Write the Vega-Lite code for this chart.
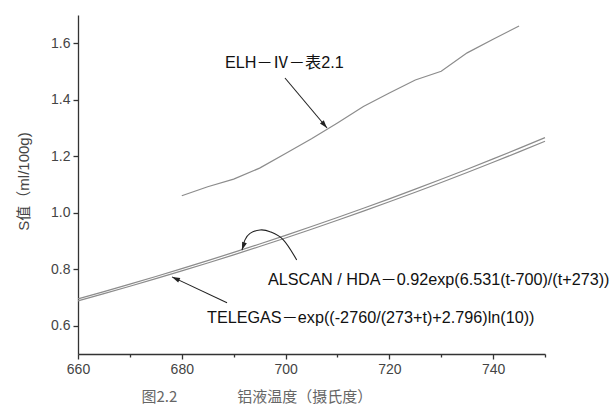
{
  "$schema": "https://vega.github.io/schema/vega-lite/v6.json",
  "width": 467,
  "height": 339,
  "autosize": "none",
  "padding": {"left": 78, "top": 15, "right": 68, "bottom": 52},
  "background": "white",
  "config": {"view": {"stroke": null}, "font": "Liberation Sans"},
  "datasets": {
    "curves": [
      {"series": "ALSCAN", "t": 660, "s": 0.6953}, {"series": "ALSCAN", "t": 665, "s": 0.7210}, {"series": "ALSCAN", "t": 670, "s": 0.7474},
      {"series": "ALSCAN", "t": 675, "s": 0.7744}, {"series": "ALSCAN", "t": 680, "s": 0.8022}, {"series": "ALSCAN", "t": 685, "s": 0.8306},
      {"series": "ALSCAN", "t": 690, "s": 0.8597}, {"series": "ALSCAN", "t": 695, "s": 0.8895}, {"series": "ALSCAN", "t": 700, "s": 0.9200},
      {"series": "ALSCAN", "t": 705, "s": 0.9512}, {"series": "ALSCAN", "t": 710, "s": 0.9832}, {"series": "ALSCAN", "t": 715, "s": 1.0159},
      {"series": "ALSCAN", "t": 720, "s": 1.0493}, {"series": "ALSCAN", "t": 725, "s": 1.0835}, {"series": "ALSCAN", "t": 730, "s": 1.1185},
      {"series": "ALSCAN", "t": 735, "s": 1.1542}, {"series": "ALSCAN", "t": 740, "s": 1.1907}, {"series": "ALSCAN", "t": 745, "s": 1.2279},
      {"series": "ALSCAN", "t": 750, "s": 1.2660},
      {"series": "TELEGAS", "t": 660, "s": 0.6883}, {"series": "TELEGAS", "t": 665, "s": 0.7138}, {"series": "TELEGAS", "t": 670, "s": 0.7399},
      {"series": "TELEGAS", "t": 675, "s": 0.7667}, {"series": "TELEGAS", "t": 680, "s": 0.7941}, {"series": "TELEGAS", "t": 685, "s": 0.8222},
      {"series": "TELEGAS", "t": 690, "s": 0.8511}, {"series": "TELEGAS", "t": 695, "s": 0.8806}, {"series": "TELEGAS", "t": 700, "s": 0.9108},
      {"series": "TELEGAS", "t": 705, "s": 0.9417}, {"series": "TELEGAS", "t": 710, "s": 0.9734}, {"series": "TELEGAS", "t": 715, "s": 1.0057},
      {"series": "TELEGAS", "t": 720, "s": 1.0388}, {"series": "TELEGAS", "t": 725, "s": 1.0727}, {"series": "TELEGAS", "t": 730, "s": 1.1073},
      {"series": "TELEGAS", "t": 735, "s": 1.1426}, {"series": "TELEGAS", "t": 740, "s": 1.1787}, {"series": "TELEGAS", "t": 745, "s": 1.2156},
      {"series": "TELEGAS", "t": 750, "s": 1.2533}
    ],
    "elh": [
      {"t": 680, "s": 1.060}, {"t": 685, "s": 1.092}, {"t": 690, "s": 1.119}, {"t": 695, "s": 1.158},
      {"t": 700, "s": 1.210}, {"t": 705, "s": 1.262}, {"t": 710, "s": 1.318}, {"t": 715, "s": 1.376},
      {"t": 720, "s": 1.424}, {"t": 725, "s": 1.470}, {"t": 730, "s": 1.501}, {"t": 735, "s": 1.566},
      {"t": 740, "s": 1.614}, {"t": 745, "s": 1.661}
    ],
    "arrows": [
      {"name": "ELH", "t": 699.89, "s": 1.477, "t2": 707.99, "s2": 1.300},
      {"name": "TELEGAS", "t": 688.72, "s": 0.681, "t2": 678.12, "s2": 0.773}
    ],
    "curl": [
      {"i": 1, "t": 702.15, "s": 0.833}, {"i": 2, "t": 699.57, "s": 0.904}, {"i": 3, "t": 697.00, "s": 0.933},
      {"i": 4, "t": 695.08, "s": 0.939}, {"i": 5, "t": 693.15, "s": 0.927}, {"i": 6, "t": 692.18, "s": 0.904},
      {"i": 7, "t": 691.61, "s": 0.868}
    ],
    "heads": [
      {"name": "ELH", "t": 707.99, "s": 1.300},
      {"name": "TELEGAS", "t": 678.12, "s": 0.773},
      {"name": "ALSCAN", "t": 691.61, "s": 0.868}
    ],
    "labels": [
      {"label": "ELH－Ⅳ－表2.1", "t": 688.33, "s": 1.530},
      {"label": "ALSCAN / HDA－0.92exp(6.531(t-700)/(t+273))", "t": 696.62, "s": 0.762},
      {"label": "TELEGAS－exp((-2760/(273+t)+2.796)ln(10))", "t": 684.86, "s": 0.627}
    ]
  },
  "layer": [
    {
      "data": {"name": "curves"},
      "mark": {"type": "line", "color": "#8c8c8c", "strokeWidth": 1.2},
      "encoding": {
        "x": {
          "field": "t", "type": "quantitative",
          "scale": {"domain": [660, 750], "nice": false, "zero": false},
          "axis": {
            "values": [660, 670, 680, 690, 700, 710, 720, 730, 740, 750],
            "labelExpr": "datum.value % 20 == 0 ? format(datum.value, 'd') : ''",
            "tickSize": {"condition": {"test": "datum.value % 20 == 0", "value": 5}, "value": 3},
            "grid": false, "domainColor": "#333", "tickColor": "#333", "domainWidth": 1.3, "tickWidth": 1.3,
            "labelFont": "Liberation Sans", "labelFontSize": 14, "labelColor": "#444", "labelPadding": 3,
            "labelFlush": false, "labelOverlap": false,
            "title": "图2.2　　　　铝液温度（摄氏度）",
            "titleFont": "Noto Sans CJK SC", "titleFontSize": 15, "titleFontWeight": "normal", "titleColor": "#666",
            "titleAlign": "left", "titleX": 63, "titleY": 42, "titleBaseline": "middle"
          }
        },
        "y": {
          "field": "s", "type": "quantitative",
          "scale": {"domain": [0.5, 1.7], "nice": false, "zero": false},
          "axis": {
            "values": [0.6, 0.7, 0.8, 0.9, 1.0, 1.1, 1.2, 1.3, 1.4, 1.5, 1.6, 1.7],
            "labelExpr": "round(datum.value * 10) % 2 == 0 ? format(datum.value, '.1f') : ''",
            "tickSize": {"condition": {"test": "round(datum.value * 10) % 2 == 0", "value": 5}, "value": 3},
            "grid": false, "domainColor": "#333", "tickColor": "#333", "domainWidth": 1.3, "tickWidth": 1.3,
            "labelFont": "Liberation Sans", "labelFontSize": 14, "labelColor": "#444", "labelPadding": 3,
            "labelFlush": false, "labelOverlap": false,
            "title": "S值（ml/100g)",
            "titleFont": "Liberation Sans, Noto Sans CJK SC", "titleFontSize": 15, "titleFontWeight": "normal", "titleColor": "#444",
            "titleAngle": -90, "titleAlign": "center", "titleBaseline": "middle", "titleX": -55, "titleY": 166
          }
        },
        "detail": {"field": "series"}
      }
    },
    {
      "data": {"name": "elh"},
      "mark": {"type": "line", "color": "#8c8c8c", "strokeWidth": 1.2},
      "encoding": {
        "x": {"field": "t", "type": "quantitative"},
        "y": {"field": "s", "type": "quantitative"}
      }
    },
    {
      "data": {"name": "arrows"},
      "mark": {"type": "rule", "color": "#222", "strokeWidth": 1.1},
      "encoding": {
        "x": {"field": "t", "type": "quantitative"},
        "y": {"field": "s", "type": "quantitative"},
        "x2": {"field": "t2"},
        "y2": {"field": "s2"}
      }
    },
    {
      "data": {"name": "curl"},
      "mark": {"type": "line", "color": "#222", "strokeWidth": 1.1, "interpolate": "cardinal"},
      "encoding": {
        "x": {"field": "t", "type": "quantitative"},
        "y": {"field": "s", "type": "quantitative"},
        "order": {"field": "i", "type": "quantitative"}
      }
    },
    {
      "data": {"name": "heads"},
      "transform": [{"filter": "datum.name == 'ELH'"}],
      "mark": {"type": "point", "shape": "M0,0L-0.5,1.6L0.5,1.6Z", "size": 100, "filled": true, "color": "#222", "opacity": 1, "angle": 140},
      "encoding": {
        "x": {"field": "t", "type": "quantitative"},
        "y": {"field": "s", "type": "quantitative"}
      }
    },
    {
      "data": {"name": "heads"},
      "transform": [{"filter": "datum.name == 'TELEGAS'"}],
      "mark": {"type": "point", "shape": "M0,0L-0.5,1.6L0.5,1.6Z", "size": 100, "filled": true, "color": "#222", "opacity": 1, "angle": 295},
      "encoding": {
        "x": {"field": "t", "type": "quantitative"},
        "y": {"field": "s", "type": "quantitative"}
      }
    },
    {
      "data": {"name": "heads"},
      "transform": [{"filter": "datum.name == 'ALSCAN'"}],
      "mark": {"type": "point", "shape": "M0,0L-0.5,1.6L0.5,1.6Z", "size": 100, "filled": true, "color": "#222", "opacity": 1, "angle": 198},
      "encoding": {
        "x": {"field": "t", "type": "quantitative"},
        "y": {"field": "s", "type": "quantitative"}
      }
    },
    {
      "data": {"name": "labels"},
      "mark": {"type": "text", "align": "left", "baseline": "middle", "font": "Liberation Sans, Noto Sans CJK SC", "fontSize": 16.2, "color": "#111"},
      "encoding": {
        "x": {"field": "t", "type": "quantitative"},
        "y": {"field": "s", "type": "quantitative"},
        "text": {"field": "label"}
      }
    }
  ]
}
